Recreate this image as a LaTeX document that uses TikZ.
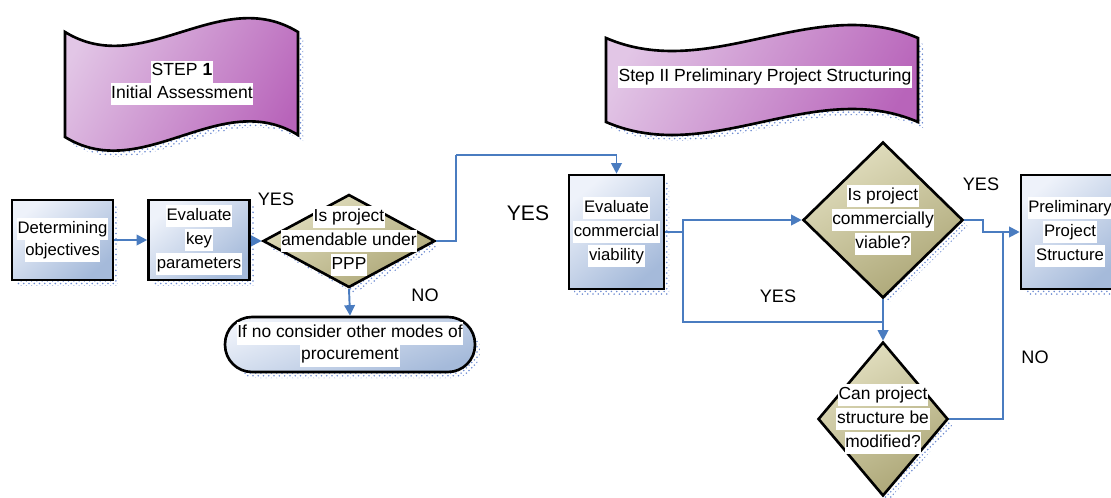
\documentclass[tikz,border=0pt]{standalone}
\usepackage{fontspec}
\setmainfont{Liberation Sans}
\usetikzlibrary{arrows.meta,shadows,patterns,shapes.geometric}
\definecolor{boxL}{RGB}{238,242,250}
\definecolor{boxD}{RGB}{165,186,218}
\definecolor{diaL}{RGB}{226,223,192}
\definecolor{diaD}{RGB}{172,166,118}
\definecolor{banL}{RGB}{226,198,230}
\definecolor{banR}{RGB}{184,100,186}
\definecolor{conn}{RGB}{74,124,192}
\definecolor{shb}{RGB}{110,140,210}
\newcommand\wb[1]{{\setlength{\fboxsep}{0.4pt}\colorbox{white}{\strut #1}}}
\tikzset{
  shad/.style={general shadow={shadow xshift=0.1cm, shadow yshift=-0.12cm, pattern=crosshatch dots, pattern color=shb}},
  txt/.style={font=\fontsize{9.5}{11.8}\selectfont, align=center},
  procbox/.style={draw=black, line width=1.5pt, top color=boxL, bottom color=boxD, shading angle=40, inner sep=0pt, txt, shad},
  decbox/.style={diamond, draw=black, line width=1.5pt, top color=diaL, bottom color=diaD, shading angle=30, inner sep=0pt, shad},
  termbox/.style={draw=black, line width=1.5pt, rounded corners=0.54cm, top color=boxL, bottom color=boxD, shading angle=20, inner sep=0pt, txt, font=\fontsize{9.9}{12}\selectfont, shad},
  banner/.style={draw=black, line width=1.5pt, top color=banL, bottom color=banR, shading angle=60},
  banshad/.style={pattern=crosshatch dots, pattern color=shb},
  conn/.style={draw=conn, line width=1.1pt},
  arr/.style={conn, -{Triangle[length=6pt,width=6pt]}},
  lbl/.style={font=\fontsize{10.3}{12}\selectfont, inner sep=0pt},
  biglbl/.style={font=\fontsize{12}{14}\selectfont, inner sep=0pt},
  dlabel/.style={align=center, font=\fontsize{9.9}{11.8}\selectfont, inner sep=0pt}
}
\begin{document}
\begin{tikzpicture}[x=0.02cm,y=-0.02cm]
\useasboundingbox (0,0) rectangle (1111,497);
\clip (0,0) rectangle (1111,497);
% banners
\fill[banshad] (70,38) .. controls (148,86) and (225,-10) .. (303,38) -- (303,141) .. controls (225,93) and (148,191) .. (70,143) -- cycle;
\draw[banner] (65,32) .. controls (143,80) and (220,-16) .. (298,32) -- (298,135) .. controls (220,87) and (143,185) .. (65,137) -- cycle;
\node[font=\fontsize{10}{12}\selectfont, align=center] (t1) at (182,83) {\wb{STEP \textbf{1}}\\[-1pt]\wb{Initial Assessment}};
\fill[banshad] (611,44) .. controls (715,89) and (819,-1) .. (923,44) -- (923,128) .. controls (819,83) and (715,173) .. (611,128) -- cycle;
\draw[banner] (606,38) .. controls (710,83) and (814,-7) .. (918,38) -- (918,122) .. controls (814,77) and (710,167) .. (606,122) -- cycle;
\node[font=\fontsize{10}{12}\selectfont] (t2) at (765,77) {\wb{Step II Preliminary Project Structuring}};
% process boxes
\node[procbox, minimum width=2.02cm, minimum height=1.6cm] (b1) at (62.5,240) {\wb{Determining}\\[-1pt]\wb{objectives}};
\node[procbox, minimum width=2.02cm, minimum height=1.6cm] (b2) at (199,240) {\wb{Evaluate}\\\wb{key}\\\wb{parameters}};
\node[decbox, minimum width=3.44cm, minimum height=1.86cm, label={[dlabel]center:\wb{Is project}\\\wb{amendable under}\\\wb{PPP}}] (d1) at (349,241) {};
\node[termbox, minimum width=5cm, minimum height=1.1cm] (r1) at (350,344.5) {\wb{If no consider other modes of}\\[-1pt]\wb{procurement}};
\node[procbox, minimum width=1.9cm, minimum height=2.28cm] (b4) at (616.5,232) {\wb{Evaluate}\\\wb{commercial}\\\wb{viability}};
\node[decbox, minimum width=3.2cm, minimum height=3.12cm, label={[dlabel]center:\wb{Is project}\\\wb{commercially}\\\wb{viable?}}] (d2) at (883,220) {};
\node[decbox, minimum width=2.6cm, minimum height=3.08cm, label={[dlabel]center:\wb{Can project}\\\wb{structure be}\\\wb{modified?}}] (d3) at (883,419) {};
\node[procbox, minimum width=1.96cm, minimum height=2.28cm] (b5) at (1070,232) {\wb{Preliminary}\\\wb{Project}\\\wb{Structure}};
% connectors
\coordinate (c1) at (456,155);
\coordinate (c2) at (683,232);
\coordinate (c3) at (883,322);
\coordinate (c4) at (983,220);
\coordinate (c5) at (1003,232);
\draw[arr] (b1) -- (b2);
\draw[arr] (b2) -- (d1.west);
\draw[arr] (d1.south) -- (r1.north);
\draw[conn] (d1.east) -| (c1);
\draw[arr] (c1) -| (b4.north);
\draw[conn] (b4.east) -- (c2);
\draw[arr] (c2) |- (d2.west);
\draw[conn] (c2) |- (c3);
\draw[arr] (d2.south) -- (d3.north);
\draw[arr] (d2.east) -- (c4) |- (b5.west);
\draw[conn] (d3.east) -| (c5);
% labels
\node[lbl] (y1) at (276,199) {YES};
\node[lbl] (n1) at (425,295) {NO};
\node[biglbl] (y2) at (528,213) {YES};
\node[lbl] (y3) at (778,296) {YES};
\node[lbl] (y4) at (981,184) {YES};
\node[lbl] (n2) at (1035,357) {NO};
\end{tikzpicture}
\end{document}
